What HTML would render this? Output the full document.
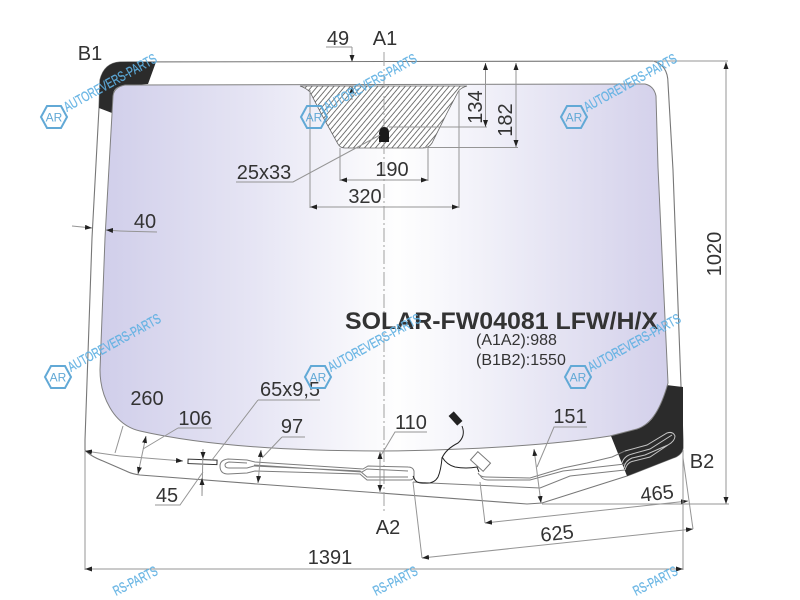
<!DOCTYPE html>
<html><head><meta charset="utf-8"><style>
html,body{margin:0;padding:0;background:#fff;width:800px;height:600px;overflow:hidden}
svg{display:block}
text{font-family:"Liberation Sans",sans-serif;fill:#333;font-size:20px}
.d{stroke:#959595;stroke-width:1;fill:none}
.a{stroke:#959595;stroke-width:1;fill:none;marker-start:url(#ar);marker-end:url(#ar)}
.e{stroke:#959595;stroke-width:1;fill:none;marker-end:url(#ar)}
.w{stroke:#7d7d7d;stroke-width:1;fill:none}
.l{stroke:#c4c4c4;stroke-width:1;fill:none}
.wm{font-size:14px;fill:#5fb0e2;fill-opacity:.9;stroke:#5fb0e2;stroke-width:.25}
.hx{fill:none;stroke:#62a9d6;stroke-width:2}
.ar{font-size:12px;fill:#62a9d6}
</style></head><body>
<svg width="800" height="600" viewBox="0 0 800 600" xmlns="http://www.w3.org/2000/svg">
<defs>
<linearGradient id="g" gradientUnits="userSpaceOnUse" x1="100" y1="0" x2="670" y2="0">
<stop offset="0" stop-color="#d0ceea"/><stop offset=".27" stop-color="#e6e5f4"/><stop offset=".52" stop-color="#fefefe"/><stop offset=".62" stop-color="#f6f6fb"/><stop offset="1" stop-color="#d2cfea"/>
</linearGradient>
<pattern id="h" patternUnits="userSpaceOnUse" width="4.2" height="4.2" patternTransform="rotate(-50)">
<rect width="4.2" height="4.2" fill="#fff"/><line x1="0" y1="0.5" x2="4.2" y2="0.5" stroke="#555" stroke-width=".8"/>
</pattern>
<marker id="ar" markerUnits="userSpaceOnUse" markerWidth="8" markerHeight="6" refX="7" refY="2.500" orient="auto-start-reverse"><path d="M0 0L7 2.500L0 5z" fill="#222"/></marker>
</defs>

<!-- outer glass -->
<path d="M120 62 L653 61 Q668 65 668 83 L673 170 L683 440 L683 448 Q682 455 673 458 L627 476 L542 503 L527 504 L380 493 L257 484 L140 475 Q132 474 126 471 L103 461 Q90 456 85 450 L85 440 L92 238 L99 108 L100 80 Q104 63 120 62Z" fill="#fff" stroke="#777" stroke-width="1.100"/>

<!-- dark corners -->
<path d="M120 62 L156 62 L148 84 L122 86 Q113 87 113 96 L112 113 L99 108 L100 80 Q104 63 120 62Z" fill="#2b2b2b"/>
<path d="M666 385 L683 387 L683 448 Q682 455 673 458 L627 476 L611 436 L637 429 Q652 424 657 410Z" fill="#2b2b2b"/>

<!-- inner view area -->
<path d="M125 85 L645 84 Q654 86 656 96 L658 167 L668 383 C661 408 652 424 637 429 L610 436 C560 444 480 450 380 451 C300 451 210 447 140 431 C113 425 100 395 100 370 L105 238 L113 96 Q114 87 125 85Z" fill="url(#g)" stroke="#808080" stroke-width="1"/>

<!-- shade band -->
<path d="M300 86 L467 86 Q460 88 458 92 L447 113 L432 143 Q429 148 423 148 L345 148 Q340 148 338 144 L323 117 L310 92 Q306 88 300 86Z" fill="url(#h)" stroke="#666" stroke-width=".8"/>

<!-- centre line -->
<path d="M384 52 L384 512" stroke="#a0a0a0" stroke-width="1" stroke-dasharray="14 3 2 3" fill="none"/>
<path d="M379 142 L379 133 Q380 127 384 127 Q389 127 389 133 L389 142Z" fill="#1b1b1b"/>

<!-- top dims -->
<path class="d" d="M326 47 H352"/><path class="e" d="M352 47 V62"/><path class="e" d="M352 100 V86"/>
<path class="d" d="M653 61 H728"/>
<path class="a" d="M726 62 V504"/>
<path class="d" d="M389 127 H487 M423 147.500 H518"/>
<path class="a" d="M485.500 63 V127"/><path class="a" d="M516 63 V147"/>
<path class="d" d="M340 148 V181 M428 148 V181 M310 90 V208 M459 90 V208"/>
<path class="a" d="M340 180 H428"/><path class="a" d="M310 207 H459"/>
<path class="d" d="M236 182 H293 L380 135"/>
<path class="e" d="M72 226 L92 228"/><path class="d" d="M157 232 L120 231"/><path class="e" d="M120 231 L106 230"/>

<!-- wiper heater left part -->
<path class="w" d="M247 460 L228 459 Q220 460 220 466 Q220 474 228 474 L247 473 L255 471 L360 474 L367 480 L410 480 Q414 480 414 476 L414 471 Q413 467 408 467 L368 466 L363 469 L255 462Z"/>
<path class="w" d="M247 463 L229 462 Q225 463 225 465 Q225 468 229 468 L247 468 L254 466 L360 471 L367 477 L408 477 M254 465 L362 472 L367 469 L408 471"/>
<!-- heater right part -->
<path class="w" d="M413 482 L430 483 L540 488 L570 476 L625 470"/>
<path class="w" d="M478 473 Q480 477 486 477 L530 478 L563 468 L587 463 L612 457 L625 451"/>
<path class="w" d="M480 475 Q482 480 488 480 L530 480 L563 471 L625 464"/>
<path class="l" d="M625 451 L647 445 L667 433 Q673 431 675 436 Q675 441 668 445 L645 455 L632 458 Q625 461 624 468 M622 463 Q624 456 632 454 L650 449 L672 435 M625 470 Q627 462 634 461 L650 457 L668 445"/>

<!-- cable + sensor -->
<path d="M462 426 Q466 436 458 443 Q446 449 442 458 Q441 470 438 477 Q434 484 425 483 Q416 484 414 478 L413 476" fill="none" stroke="#222" stroke-width="1"/>
<path d="M442 457 Q447 465 455 467 Q466 469 477 467 L479 472" fill="none" stroke="#222" stroke-width="1"/>
<rect x="449" y="415" width="13" height="7" transform="rotate(48 455.500 418.500)" fill="#222"/>
<rect x="472" y="456" width="17" height="11" transform="rotate(42 480.500 461.500)" fill="#fff" stroke="#777"/>

<!-- bottom dims -->
<path class="d" d="M123 426 L115 453"/>
<path class="e" d="M120 456 L85 451"/>
<path class="e" d="M120 456 L183 461"/>
<rect x="188" y="459.500" width="29" height="4.500" transform="rotate(2 200 462)" fill="#fff" stroke="#333"/>
<path class="d" d="M178 428 H212 M178 428 L143 449"/><path class="a" d="M146 436 L138 474"/>
<path class="d" d="M258 400 H320 M258 400 L212 460"/>
<path class="d" d="M282 437 H305 M282 437 L262 458"/><path class="a" d="M261 450 L258 483"/>
<path class="d" d="M155 505 H180 L203 472"/>
<path class="d" d="M203 449 L202 496"/><path class="e" d="M203 449 L203 459"/><path class="e" d="M202 496 L202 478"/>
<path class="d" d="M427 432 H395 L380 457"/><path class="a" d="M380 452 V492"/>
<path class="d" d="M587 427 H554 L537 467"/><path class="a" d="M534 449 L541 503"/>
<path class="d" d="M542 504 H729"/>
<path class="d" d="M480 482 L485 523"/><path class="a" d="M485 523 L688 501"/>
<path class="d" d="M413 482 L422 558"/><path class="a" d="M422 558 L693 529"/>
<path class="d" d="M683 458 L693 529"/>
<path class="d" d="M85 450 V570 M683 450 V570"/>
<path class="a" d="M85 569 H683"/>

<!-- labels -->
<text x="338" y="45" text-anchor="middle">49</text>
<text x="385" y="45" text-anchor="middle">A1</text>
<text x="90" y="60" text-anchor="middle">B1</text>
<text x="702" y="468" text-anchor="middle">B2</text>
<text x="388" y="534" text-anchor="middle">A2</text>
<text x="392" y="176" text-anchor="middle">190</text>
<text x="365" y="203" text-anchor="middle">320</text>
<text x="264" y="179" text-anchor="middle">25x33</text>
<text x="145" y="228" text-anchor="middle">40</text>
<text x="147" y="405" text-anchor="middle">260</text>
<text x="195" y="425" text-anchor="middle">106</text>
<text x="290" y="396" text-anchor="middle">65x9,5</text>
<text x="292" y="433" text-anchor="middle">97</text>
<text x="167" y="502" text-anchor="middle">45</text>
<text x="411" y="429" text-anchor="middle">110</text>
<text x="570" y="423" text-anchor="middle">151</text>
<text x="657" y="500" text-anchor="middle" transform="rotate(-6 657 493)">465</text>
<text x="557" y="540" text-anchor="middle" transform="rotate(-6 557 533)">625</text>
<text x="330" y="564" text-anchor="middle">1391</text>
<text transform="translate(482,107) rotate(-90)" text-anchor="middle">134</text>
<text transform="translate(512,120) rotate(-90)" text-anchor="middle">182</text>
<text transform="translate(721,254) rotate(-90)" text-anchor="middle">1020</text>
<text x="345" y="329" style="font-size:24px;font-weight:bold" textLength="313" lengthAdjust="spacingAndGlyphs">SOLAR-FW04081 LFW/H/X</text>
<text x="476" y="345" style="font-size:16px">(A1A2):988</text>
<text x="476" y="365" style="font-size:16px">(B1B2):1550</text>

<!-- watermarks -->
<g transform="translate(54,117)">
<path class="hx" d="M-13 0L-7 -11H7L13 0L7 11H-7Z"/><text class="ar" x="0" y="4.500" text-anchor="middle">AR</text>
<text class="wm" x="13" y="-5" transform="rotate(-29 13 -5)" textLength="104" lengthAdjust="spacingAndGlyphs">AUTOREVERS-PARTS</text></g>
<g transform="translate(314,117)">
<path class="hx" d="M-13 0L-7 -11H7L13 0L7 11H-7Z"/><text class="ar" x="0" y="4.500" text-anchor="middle">AR</text>
<text class="wm" x="13" y="-5" transform="rotate(-29 13 -5)" textLength="104" lengthAdjust="spacingAndGlyphs">AUTOREVERS-PARTS</text></g>
<g transform="translate(574,117)">
<path class="hx" d="M-13 0L-7 -11H7L13 0L7 11H-7Z"/><text class="ar" x="0" y="4.500" text-anchor="middle">AR</text>
<text class="wm" x="13" y="-5" transform="rotate(-29 13 -5)" textLength="104" lengthAdjust="spacingAndGlyphs">AUTOREVERS-PARTS</text></g>
<g transform="translate(58,377)">
<path class="hx" d="M-13 0L-7 -11H7L13 0L7 11H-7Z"/><text class="ar" x="0" y="4.500" text-anchor="middle">AR</text>
<text class="wm" x="13" y="-5" transform="rotate(-29 13 -5)" textLength="104" lengthAdjust="spacingAndGlyphs">AUTOREVERS-PARTS</text></g>
<g transform="translate(318,377)">
<path class="hx" d="M-13 0L-7 -11H7L13 0L7 11H-7Z"/><text class="ar" x="0" y="4.500" text-anchor="middle">AR</text>
<text class="wm" x="13" y="-5" transform="rotate(-29 13 -5)" textLength="104" lengthAdjust="spacingAndGlyphs">AUTOREVERS-PARTS</text></g>
<g transform="translate(578,377)">
<path class="hx" d="M-13 0L-7 -11H7L13 0L7 11H-7Z"/><text class="ar" x="0" y="4.500" text-anchor="middle">AR</text>
<text class="wm" x="13" y="-5" transform="rotate(-29 13 -5)" textLength="104" lengthAdjust="spacingAndGlyphs">AUTOREVERS-PARTS</text></g>
<text class="wm" x="116" y="596" transform="rotate(-27 116 596)" textLength="48" lengthAdjust="spacingAndGlyphs">RS-PARTS</text>
<text class="wm" x="376" y="596" transform="rotate(-27 376 596)" textLength="48" lengthAdjust="spacingAndGlyphs">RS-PARTS</text>
<text class="wm" x="636" y="596" transform="rotate(-27 636 596)" textLength="48" lengthAdjust="spacingAndGlyphs">RS-PARTS</text>
</svg>
</body></html>
